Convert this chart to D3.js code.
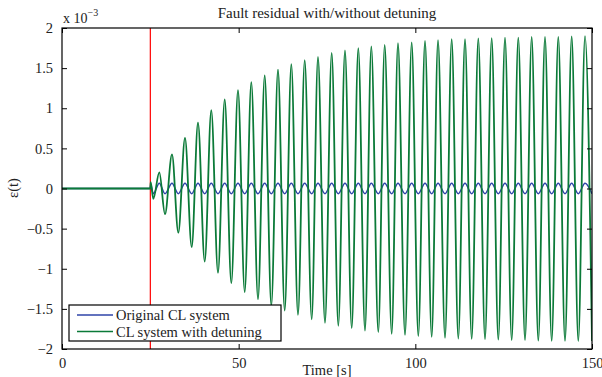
<!DOCTYPE html>
<html>
<head>
<meta charset="utf-8">
<script src="https://cdn.jsdelivr.net/npm/d3@7"></script>
<style>
  body { margin: 0; background: #fff; }
  svg text { font-family: "Liberation Serif", "Times New Roman", serif; fill: #222; }
</style>
</head>
<body>
<svg id="chart" width="602" height="377"></svg>
<script>
// ---- data (values in units of 1e-3) ----
const title = "Fault residual with/without detuning";
const xLabel = "Time [s]";
const yLabel = "ε(t)";
const seriesNames = ["Original CL system", "CL system with detuning"];
const faultTime = 25;
const xTicks = [0, 50, 100, 150];
const yTicks = [-2, -1.5, -1, -0.5, 0, 0.5, 1, 1.5, 2];

// times of the points (start, fault, then alternating extrema)
const times = [0, 25, 25.1,
  25.84, 27.54, 29.15, 31.13, 32.92, 34.81, 36.71, 38.49, 40.39, 42.25,
  44.15, 46.05, 47.92, 49.81, 51.71, 53.58, 55.47, 57.37, 59.24, 61.13,
  63.03, 64.90, 66.79, 68.69, 70.67, 72.45, 74.43, 76.33, 78.20, 80.09,
  81.99, 83.86, 85.75, 87.54, 89.52, 91.33, 93.31, 95.09, 97.08, 98.97,
  100.84, 102.74, 104.63, 106.42, 108.40, 110.29, 112.16, 114.06, 115.95, 117.82,
  119.72, 121.61, 123.48, 125.38, 127.27, 129.14, 131.04, 132.93, 134.80, 136.70,
  138.59, 140.46, 142.36, 144.25, 146.12, 148.02, 150];

const detunedValues = [0, 0, 0.08,
  -0.13, 0.20, -0.32, 0.425, -0.55, 0.63, -0.73, 0.82, -0.91, 0.975,
  -1.05, 1.11, -1.18, 1.225, -1.29, 1.325, -1.38, 1.41, -1.46, 1.48,
  -1.52, 1.55, -1.575, 1.60, -1.63, 1.64, -1.675, 1.69, -1.71, 1.72,
  -1.74, 1.75, -1.77, 1.77, -1.79, 1.79, -1.81, 1.81, -1.825, 1.82,
  -1.84, 1.84, -1.85, 1.85, -1.86, 1.86, -1.87, 1.86, -1.875, 1.87,
  -1.88, 1.875, -1.883, 1.88, -1.89, 1.88, -1.89, 1.89, -1.895, 1.89,
  -1.90, 1.89, -1.90, 1.895, -1.90, 1.90, -1.90];

const originalValues = [0, 0, 0.05,
  -0.065, 0.065, -0.065, 0.065, -0.065, 0.065, -0.065, 0.065, -0.065, 0.065,
  -0.065, 0.065, -0.065, 0.065, -0.065, 0.065, -0.065, 0.065, -0.065, 0.065,
  -0.065, 0.065, -0.065, 0.065, -0.065, 0.065, -0.065, 0.065, -0.065, 0.065,
  -0.065, 0.065, -0.065, 0.065, -0.065, 0.065, -0.065, 0.065, -0.065, 0.065,
  -0.065, 0.065, -0.065, 0.065, -0.065, 0.065, -0.065, 0.065, -0.065, 0.065,
  -0.065, 0.065, -0.065, 0.065, -0.065, 0.065, -0.065, 0.065, -0.065, 0.065,
  -0.065, 0.065, -0.065, 0.065, -0.065, 0.065, -0.065];

const colors = { original: "#2f44a8", detuned: "#0b7a38", fault: "#ff0000" };

// ---- layout ----
const svg = d3.select("#chart");
const m = { left: 62, right: 592, top: 28, bottom: 349 };
const x = d3.scaleLinear().domain([0, 150]).range([m.left, m.right]);
const y = d3.scaleLinear().domain([-2, 2]).range([m.bottom, m.top]);
const fs = "14.5px";

// axes with inward ticks on all four sides
const tl = 5;
const axB = d3.axisBottom(x).tickValues(xTicks).tickSize(-tl).tickPadding(tl + 4).tickFormat(d3.format("d"));
const axT = d3.axisTop(x).tickValues(xTicks).tickSize(-tl).tickFormat("");
const fmtY = d => d === 0 ? "0" : d3.format("")(d).replace("-", "\u2212");
const axL = d3.axisLeft(y).tickValues(yTicks).tickSize(-tl).tickPadding(tl + 4).tickFormat(fmtY);
const axR = d3.axisRight(y).tickValues(yTicks).tickSize(-tl).tickFormat("");

// fault line
svg.append("line")
  .attr("x1", x(faultTime)).attr("x2", x(faultTime))
  .attr("y1", y(2)).attr("y2", y(-2))
  .attr("stroke", colors.fault).attr("stroke-width", 1.2);

const line = d3.line().x(d => x(d[0])).y(d => y(d[1])).curve(d3.curveMonotoneX);
const detData = times.map((t, i) => [t, detunedValues[i]]);
const orgData = times.map((t, i) => [t, originalValues[i]]);

svg.append("defs").append("clipPath").attr("id", "clip")
  .append("rect").attr("x", m.left).attr("y", m.top)
  .attr("width", m.right - m.left).attr("height", m.bottom - m.top);

const plot = svg.append("g").attr("clip-path", "url(#clip)");
plot.append("path").datum(orgData).attr("d", line)
  .attr("fill", "none").attr("stroke", colors.original).attr("stroke-width", 1.5);
plot.append("path").datum(detData).attr("d", line)
  .attr("fill", "none").attr("stroke", colors.detuned).attr("stroke-width", 1.8);

function styleAxis(g) {
  g.select(".domain").remove();
  g.selectAll(".tick line").attr("stroke", "#000");
  g.selectAll(".tick text").style("font-size", fs).attr("fill", "#222");
}
svg.append("g").attr("transform", `translate(0,${m.bottom})`).call(axB).call(styleAxis);
svg.append("g").attr("transform", `translate(0,${m.top})`).call(axT).call(styleAxis);
svg.append("g").attr("transform", `translate(${m.left},0)`).call(axL).call(styleAxis);
svg.append("g").attr("transform", `translate(${m.right},0)`).call(axR).call(styleAxis);

// box
svg.append("rect").attr("x", m.left).attr("y", m.top)
  .attr("width", m.right - m.left).attr("height", m.bottom - m.top)
  .attr("fill", "none").attr("stroke", "#000").attr("stroke-width", 1.2);

// exponent label
const ex = svg.append("text").attr("x", m.left + 1).attr("y", 23).style("font-size", "14px");
ex.append("tspan").text("x 10");
ex.append("tspan").attr("dy", -7).style("font-size", "10px").text("\u22123");

// title and labels
svg.append("text").attr("x", (m.left + m.right) / 2).attr("y", 18)
  .attr("text-anchor", "middle").style("font-size", "15px").text(title);
svg.append("text").attr("x", (m.left + m.right) / 2).attr("y", 375)
  .attr("text-anchor", "middle").style("font-size", fs).text(xLabel);
svg.append("text").attr("transform", `translate(18,188) rotate(-90)`)
  .attr("text-anchor", "middle").style("font-size", fs).text(yLabel);

// legend
const lg = svg.append("g").attr("transform", "translate(69,305)");
lg.append("rect").attr("width", 212).attr("height", 36)
  .attr("fill", "#fff").attr("stroke", "#000").attr("stroke-width", 1.2);
[colors.original, colors.detuned].forEach((c, i) => {
  const yy = 10 + i * 16.5;
  lg.append("line").attr("x1", 8).attr("x2", 44).attr("y1", yy).attr("y2", yy)
    .attr("stroke", c).attr("stroke-width", 1.5);
  lg.append("text").attr("x", 47).attr("y", yy + 5).style("font-size", fs).text(seriesNames[i]);
});
</script>
</body>
</html>
